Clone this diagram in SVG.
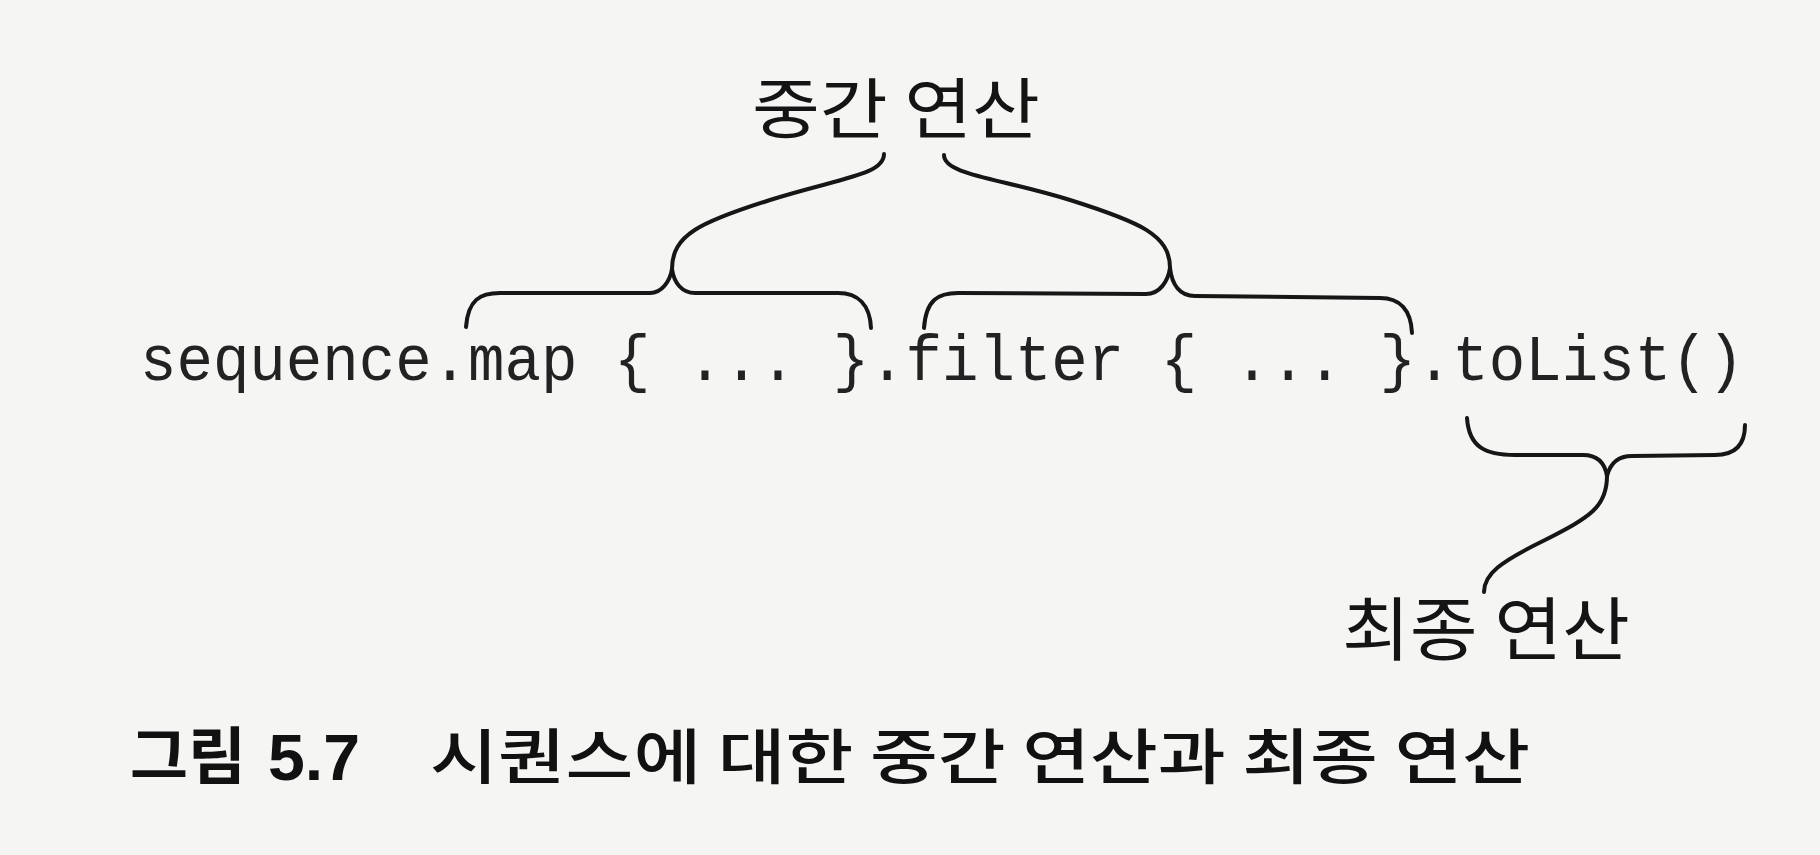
<svg xmlns="http://www.w3.org/2000/svg" width="1820" height="855" viewBox="0 0 1820 855">
  <style>
    .brace { fill: none; stroke: #161616; stroke-width: 4; stroke-linecap: round; stroke-linejoin: round; }
    .label { font-family: "Noto Sans CJK KR", "Noto Sans", sans-serif; fill: #141414; }
    .code { font-family: "Liberation Mono", "DejaVu Sans Mono", monospace; fill: #222222; }
    .cap { font-family: "Noto Sans CJK KR", "Liberation Sans", sans-serif; fill: #111111; }
    .num { font-family: "Liberation Sans", "Noto Sans", sans-serif; fill: #111111; }
  </style>
  <rect x="0" y="0" width="1820" height="855" fill="#f5f5f3"/>

  <g id="label-intermediate">
    <text class="label" x="752" y="133" font-size="66" textLength="288" lengthAdjust="spacingAndGlyphs">중간 연산</text>
  </g>

  <g id="code-line">
    <text class="code" x="140" y="380" font-size="64" textLength="1604" lengthAdjust="spacingAndGlyphs">sequence.map { ... }.filter { ... }.toList()</text>
  </g>

  <g id="label-terminal">
    <text class="label" x="1342" y="655" font-size="69" textLength="288" lengthAdjust="spacingAndGlyphs">최종 연산</text>
  </g>

  <g id="connectors">
    <path class="brace" d="M466,327 C468,300 480,293 500,293 L650,293 C662,293 670,281 672,269"/>
    <path class="brace" d="M672,269 C674,283 682,293 695,293 L838,293 C858,293 870,305 871,328"/>
    <path class="brace" d="M672,269 C672,235 700,222 770,200 C840,178 884,175 884,154"/>
    <path class="brace" d="M924,328 C926,300 938,293 958,293 L1146,294 C1160,294 1168,281 1170,268"/>
    <path class="brace" d="M1170,268 C1172,285 1180,296 1195,296 L1380,298 C1400,298 1411,310 1412,333"/>
    <path class="brace" d="M1170,268 C1170,235 1140,222 1070,200 C1000,178 944,175 944,155"/>
    <path class="brace" d="M1467,418 C1469,447 1485,455 1515,455 L1583,455 C1598,455 1605,464 1607,476"/>
    <path class="brace" d="M1607,476 C1610,464 1617,456 1632,456 L1715,455 C1738,455 1745,442 1745,425"/>
    <path class="brace" d="M1607,476 C1607,507 1590,517 1545,540 C1500,562 1484,574 1484,592"/>
  </g>

  <g id="caption">
    <text class="cap" x="130" y="779" font-size="62" font-weight="700" textLength="116" lengthAdjust="spacingAndGlyphs">그림</text>
    <text class="num" x="268" y="780" font-size="64" font-weight="700" textLength="92" lengthAdjust="spacingAndGlyphs">5.7</text>
    <text class="cap" x="430" y="779" font-size="60" font-weight="500" textLength="1100" lengthAdjust="spacingAndGlyphs">시퀀스에 대한 중간 연산과 최종 연산</text>
  </g>
</svg>
